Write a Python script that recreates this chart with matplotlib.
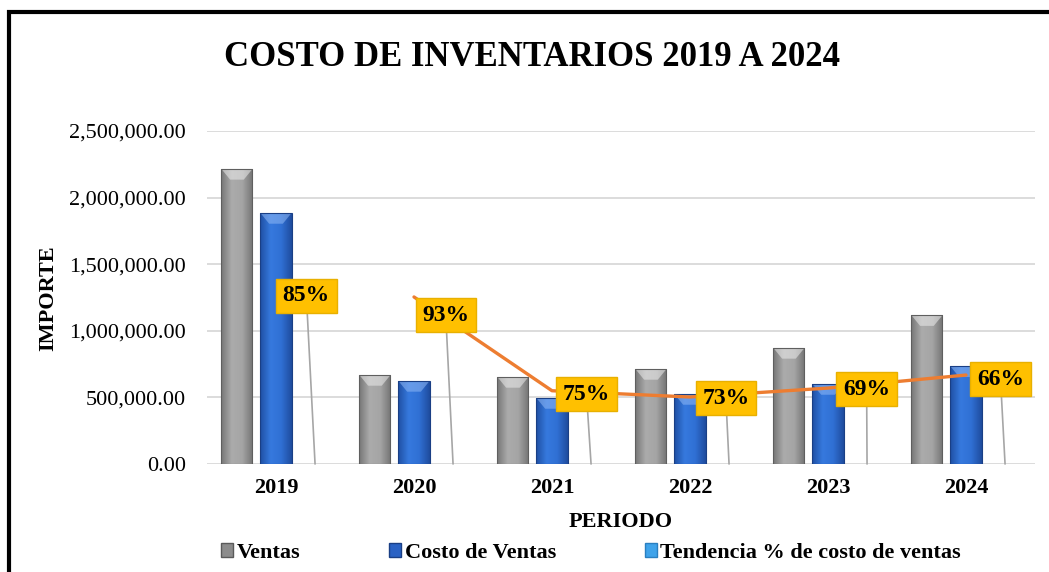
import numpy as np
import matplotlib
matplotlib.use("Agg")
import matplotlib.pyplot as plt
from matplotlib.colors import LinearSegmentedColormap
from matplotlib.patches import Rectangle, Polygon, Patch
from matplotlib.ticker import FuncFormatter, MultipleLocator

# ---------------- data ----------------
anios = ['2019', '2020', '2021', '2022', '2023', '2024']
ventas = [2215000, 668000, 653000, 713000, 871000, 1117000]
costo_ventas = [1884000, 623000, 495000, 525000, 600000, 733000]
tendencia_pct = [0.85, 0.93, 0.75, 0.73, 0.69, 0.66]
linea_tendencia = [np.nan, 1254000, 550000, 503000, 570000, 668000]

titulo = 'COSTO DE INVENTARIOS 2019 A 2024'
serie_nombres = ['Ventas', 'Costo de Ventas', 'Tendencia % de costo de ventas']

# ---------------- style ----------------
FONT = 'Liberation Serif'
plt.rcParams['font.family'] = [FONT, 'DejaVu Serif']

W, H = 1049, 572
fig = plt.figure(figsize=(W / 100, H / 100), dpi=100)
fig.patch.set_facecolor('white')

ax = fig.add_axes([207 / W, (H - 464) / H, (1035 - 207) / W, (464 - 131) / H])

x = np.arange(len(anios))
bw = 0.225
off = 0.283

gray_cmap = LinearSegmentedColormap.from_list('g', ['#767676', '#ababab', '#a5a5a5', '#747474'])
blue_cmap = LinearSegmentedColormap.from_list('b', ['#1f4fa3', '#3679de', '#3070d4', '#1f4c9e'])
grad = np.linspace(0, 1, 128).reshape(1, -1)


def fancy_bars(xs, vals, cmap, top_color, edge):
    bars = ax.bar(xs, vals, bw, color='none', edgecolor=edge, linewidth=0.8, zorder=3)
    for b in bars:
        bx, by = b.get_x(), b.get_y()
        w, h = b.get_width(), b.get_height()
        im = ax.imshow(grad, extent=(bx, bx + w, by, by + h), cmap=cmap,
                       aspect='auto', interpolation='bicubic', zorder=2)
        im.set_clip_path(b)
        d = 80000
        ins = w * 0.28
        poly = Polygon([(bx, h), (bx + w, h), (bx + w - ins, h - d), (bx + ins, h - d)],
                       closed=True, facecolor=top_color, edgecolor='none', alpha=0.55, zorder=2.5)
        ax.add_patch(poly)
    return bars


fancy_bars(x - off, ventas, gray_cmap, '#ececec', '#5f5f5f')
fancy_bars(x, costo_ventas, blue_cmap, '#8fb8f5', '#1a3f85')
# tendency series (percent values, on the same axis -> practically invisible)
tbars = ax.bar(x + off, tendencia_pct, bw, color='#3fa3ea', zorder=3)

# orange trend line
ax.plot(x, linea_tendencia, color='#ED7D31', lw=2.4, zorder=4, solid_capstyle='round')

# data labels with leader lines
label_dx = [0.22, 0.23, 0.25, 0.26, 0.28, 0.25]
label_y = [1262000, 1118000, 525000, 495000, 563000, 638000]
for i, p in enumerate(tendencia_pct):
    ax.annotate(f'{round(p * 100):d}%', xy=(x[i] + off, p), xycoords='data',
                xytext=(x[i] + label_dx[i], label_y[i]), textcoords='data',
                ha='center', va='center', fontsize=17, fontweight='bold',
                family=FONT, color='black', zorder=6,
                bbox=dict(boxstyle='square,pad=0.28', fc='#FFC000', ec='#E8B000', lw=1),
                arrowprops=dict(arrowstyle='-', color='#a6a6a6', lw=1.2, shrinkA=0, shrinkB=0))

ax.set_xlim(-0.5, len(anios) - 0.5)
ax.set_ylim(0, 2500000)
ax.yaxis.set_major_locator(MultipleLocator(500000))
ax.yaxis.set_major_formatter(FuncFormatter(lambda v, _: f'{v:,.2f}'))
ax.set_xticks(x)
ax.set_xticklabels(anios)
ax.grid(axis='y', color='#d9d9d9', lw=1.3, zorder=0)
ax.set_axisbelow(True)
for s in ax.spines.values():
    s.set_visible(False)
ax.tick_params(axis='both', length=0)
ax.tick_params(axis='y', pad=15, labelsize=16)
ax.tick_params(axis='x', pad=10, labelsize=16)
for t in ax.get_xticklabels():
    t.set_fontweight('bold')

fig.text(532 / W, 1 - 58 / H, titulo, ha='center', va='center', fontsize=25,
         fontweight='bold', family=FONT)
fig.text(621 / W, 1 - 522 / H, 'PERIODO', ha='center', va='center', fontsize=16,
         fontweight='bold', family=FONT)
fig.text(48 / W, 1 - 298 / H, 'IMPORTE', ha='center', va='center', fontsize=16,
         fontweight='bold', family=FONT, rotation=90)

handles = [Patch(facecolor='#8c8c8c', edgecolor='#5a5a5a'),
           Patch(facecolor='#2a62c4', edgecolor='#1a3f85'),
           Patch(facecolor='#3fa3ea', edgecolor='#2a7fc0')]
leg = fig.legend(handles, serie_nombres, loc='center', bbox_to_anchor=(591 / W, 1 - 553 / H),
                 ncol=3, frameon=False, handlelength=0.55, handleheight=0.55,
                 handletextpad=0.15, columnspacing=4.0, borderpad=0,
                 prop=dict(family=FONT, weight='bold', size=16))

# outer chart border
fig.add_artist(Rectangle((9 / W, -0.2), 1.3, 1.2 - 12 / H, transform=fig.transFigure,
                         fill=False, ec='black', lw=3))

fig.savefig('out.png', dpi=100)
